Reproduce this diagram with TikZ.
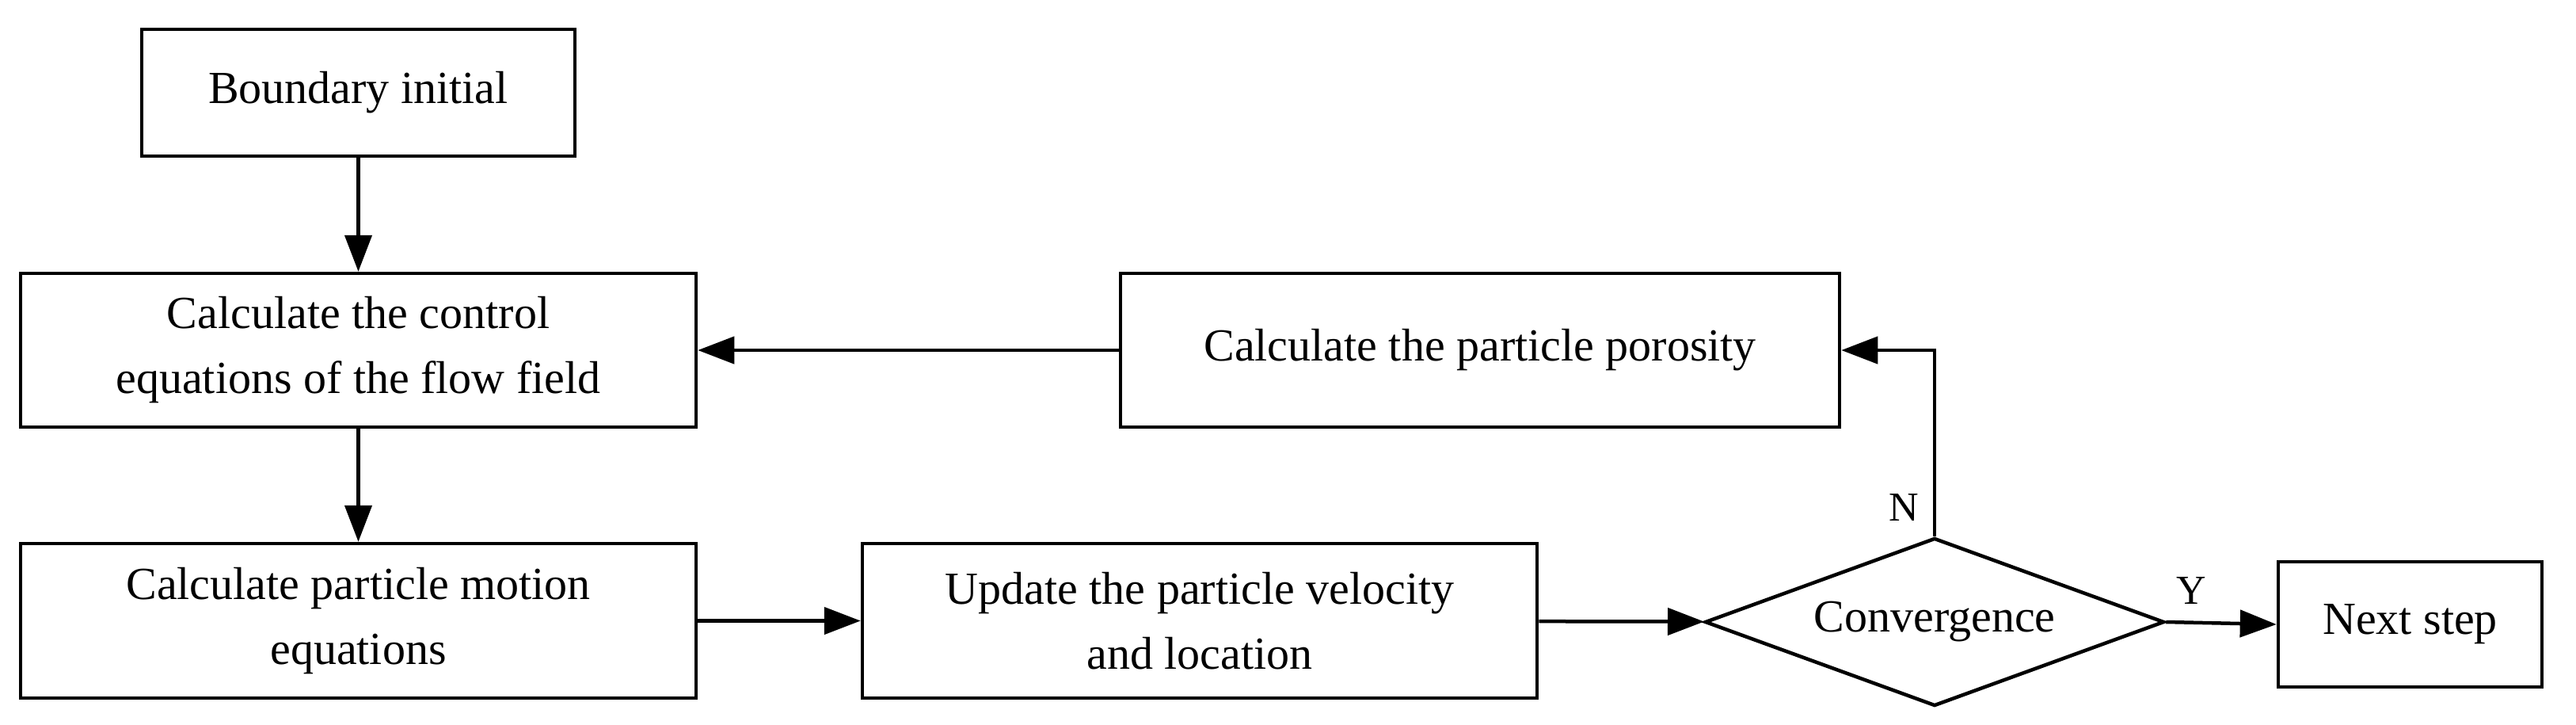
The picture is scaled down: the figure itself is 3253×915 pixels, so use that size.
\documentclass[tikz,border=0pt]{standalone}
\usepackage{fontspec}
\setmainfont{Liberation Serif}
\usetikzlibrary{arrows.meta,shapes.geometric}
\begin{document}
\begin{tikzpicture}[x=1pt,y=-1pt,
  box/.style={draw,line width=4.5pt,align=center,inner sep=0pt,font=\fontsize{58}{82}\selectfont},
  lab/.style={font=\fontsize{52}{60}\selectfont},
  arr/.style={line width=4.5pt,-{Triangle[length=46pt,width=34pt]}}]
\useasboundingbox (0,0) rectangle (3253,915);
\node[box,minimum width=547pt,minimum height=160pt] (b) at (452.5,117) {Boundary initial};
\node[box,minimum width=853pt,minimum height=194pt] (c) at (452.5,442) {Calculate the control\\equations of the flow field};
\node[box,minimum width=853pt,minimum height=195pt] (m) at (452.5,783.5) {Calculate particle motion\\equations};
\node[box,minimum width=852pt,minimum height=195pt] (u) at (1515,783.5) {Update the particle velocity\\and location};
\node[box,minimum width=908pt,minimum height=194pt] (p) at (1869,442) {Calculate the particle porosity};
\node[box,diamond,aspect=2.74,minimum width=580pt,minimum height=212pt] (d) at (2443,785) {Convergence};
\node[box,minimum width=333pt,minimum height=158pt] (n) at (3043.5,788) {Next step};
\draw[arr] (b) -- (c);
\draw[arr] (c) -- (m);
\draw[arr] (m) -- (u);
\draw[arr] (u) -- (d);
\draw[arr] (d.east) -- (n.west);
\draw[arr] (d.north) |- (p.east);
\draw[arr] (p) -- (c);
\node[lab] (nl) at (2404,640) {N};
\node[lab] (yl) at (2767,745) {Y};
\end{tikzpicture}
\end{document}
